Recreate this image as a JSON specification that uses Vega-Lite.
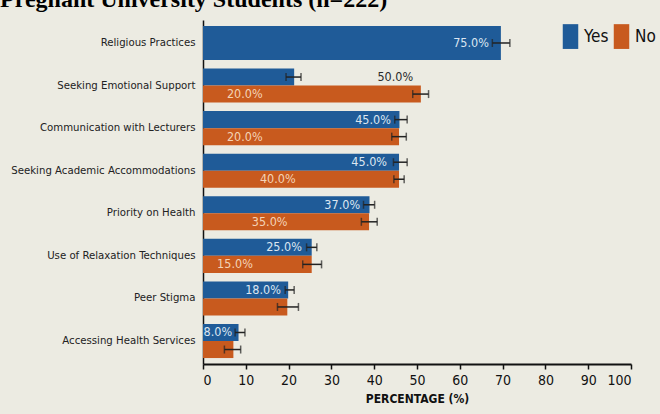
{
  "$schema": "https://vega.github.io/schema/vega-lite/v6.json",
  "width": 428,
  "height": 344,
  "autosize": {"type": "none"},
  "padding": {"left": 203, "top": 20, "right": 29, "bottom": 50},
  "background": "#ecebe2",
  "title": {
    "text": "Pregnant University Students (n=222)",
    "font": "Liberation Serif",
    "fontSize": 24,
    "fontWeight": "bold",
    "color": "#000000",
    "anchor": "start",
    "frame": "group",
    "orient": "top",
    "baseline": "alphabetic",
    "offset": 0,
    "dx": -203,
    "dy": 11
  },
  "config": {
    "font": "DejaVu Sans Condensed, Roboto Condensed, Roboto",
    "view": {"stroke": null},
    "legend": {
      "orient": "none",
      "legendX": 359,
      "legendY": 8,
      "direction": "horizontal",
      "title": null,
      "symbolType": "M-1,-1.6L1,-1.6L1,1.6L-1,1.6Z",
      "symbolSize": 240,
      "symbolStrokeWidth": 0,
      "labelFontSize": 17,
      "labelColor": "#111111",
      "labelOffset": 5,
      "columnPadding": 4,
      "padding": 0
    }
  },
  "datasets": {
    "bars": [
      {"category": "Religious Practices", "group": "Yes", "value": 69.6, "lo": 67.6, "hi": 71.7},
      {"category": "Seeking Emotional Support", "group": "Yes", "value": 21.3, "lo": 19.4, "hi": 22.9},
      {"category": "Seeking Emotional Support", "group": "No", "value": 50.9, "lo": 49.0, "hi": 52.7},
      {"category": "Communication with Lecturers", "group": "Yes", "value": 45.9, "lo": 44.8, "hi": 47.7},
      {"category": "Communication with Lecturers", "group": "No", "value": 45.8, "lo": 44.1, "hi": 47.5},
      {"category": "Seeking Academic Accommodations", "group": "Yes", "value": 45.8, "lo": 44.5, "hi": 47.7},
      {"category": "Seeking Academic Accommodations", "group": "No", "value": 45.8, "lo": 44.6, "hi": 47.0},
      {"category": "Priority on Health", "group": "Yes", "value": 38.9, "lo": 37.5, "hi": 40.1},
      {"category": "Priority on Health", "group": "No", "value": 38.8, "lo": 37.0, "hi": 40.7},
      {"category": "Use of Relaxation Techniques", "group": "Yes", "value": 25.4, "lo": 24.2, "hi": 26.6},
      {"category": "Use of Relaxation Techniques", "group": "No", "value": 25.4, "lo": 23.3, "hi": 27.7},
      {"category": "Peer Stigma", "group": "Yes", "value": 19.9, "lo": 19.2, "hi": 21.3},
      {"category": "Peer Stigma", "group": "No", "value": 19.7, "lo": 17.4, "hi": 22.3},
      {"category": "Accessing Health Services", "group": "Yes", "value": 8.3, "lo": 7.5, "hi": 9.8},
      {"category": "Accessing Health Services", "group": "No", "value": 7.1, "lo": 5.0, "hi": 8.8}
    ],
    "labels": [
      {"category": "Religious Practices", "group": "Yes", "label": "75.0%", "at": 66.8, "tone": "light"},
      {"category": "Seeking Emotional Support", "group": "Yes", "label": "50.0%", "at": 49.1, "tone": "dark"},
      {"category": "Seeking Emotional Support", "group": "No", "label": "20.0%", "at": 5.6, "tone": "light"},
      {"category": "Communication with Lecturers", "group": "Yes", "label": "45.0%", "at": 43.9, "tone": "light"},
      {"category": "Communication with Lecturers", "group": "No", "label": "20.0%", "at": 5.6, "tone": "light"},
      {"category": "Seeking Academic Accommodations", "group": "Yes", "label": "45.0%", "at": 43.0, "tone": "light"},
      {"category": "Seeking Academic Accommodations", "group": "No", "label": "40.0%", "at": 13.3, "tone": "light"},
      {"category": "Priority on Health", "group": "Yes", "label": "37.0%", "at": 36.7, "tone": "light"},
      {"category": "Priority on Health", "group": "No", "label": "35.0%", "at": 11.4, "tone": "light"},
      {"category": "Use of Relaxation Techniques", "group": "Yes", "label": "25.0%", "at": 23.1, "tone": "light"},
      {"category": "Use of Relaxation Techniques", "group": "No", "label": "15.0%", "at": 3.3, "tone": "light"},
      {"category": "Peer Stigma", "group": "Yes", "label": "18.0%", "at": 18.2, "tone": "light"},
      {"category": "Accessing Health Services", "group": "Yes", "label": "8.0%", "at": 6.8, "tone": "light"}
    ]
  },
  "encoding": {
    "y": {
      "field": "category",
      "type": "nominal",
      "sort": null,
      "scale": {"paddingInner": 0.2, "paddingOuter": 0.14},
      "axis": {
        "title": null,
        "ticks": false,
        "labelFontSize": 11.3,
        "labelColor": "#222222",
        "labelPadding": 8,
        "labelLimit": 400,
        "domainColor": "#111111",
        "domainWidth": 1.5
      }
    }
  },
  "layer": [
    {
      "data": {"name": "bars"},
      "transform": [{"filter": "datum.category === 'Religious Practices'"}],
      "layer": [
        {
          "mark": {"type": "bar"},
          "encoding": {
            "x": {
              "field": "value",
              "type": "quantitative",
              "scale": {"domain": [0, 100], "nice": false},
              "axis": {
                "values": [0, 10, 20, 30, 40, 50, 60, 70, 80, 90, 100],
                "grid": false,
                "title": "PERCENTAGE (%)",
                "titleFontSize": 12,
                "titleFontWeight": "bold",
                "titleColor": "#111111",
                "titlePadding": 6,
                "labelFontSize": 14,
                "labelColor": "#111111",
                "labelPadding": 4,
                "tickColor": "#111111",
                "tickSize": 5,
                "tickWidth": 1.5,
                "domainColor": "#111111",
                "domainWidth": 2
              }
            },
            "color": {
              "field": "group",
              "type": "nominal",
              "scale": {"domain": ["Yes", "No"], "range": ["#1f5b98", "#c85a1e"]}
            }
          }
        },
        {
          "mark": {"type": "rule", "color": "#222222", "strokeWidth": 1.5},
          "encoding": {"x": {"field": "lo", "type": "quantitative"}, "x2": {"field": "hi"}}
        },
        {
          "mark": {"type": "tick", "color": "#222222", "size": 8, "thickness": 1.5},
          "encoding": {"x": {"field": "lo", "type": "quantitative"}}
        },
        {
          "mark": {"type": "tick", "color": "#222222", "size": 8, "thickness": 1.5},
          "encoding": {"x": {"field": "hi", "type": "quantitative"}}
        }
      ]
    },
    {
      "data": {"name": "bars"},
      "transform": [{"filter": "datum.category !== 'Religious Practices'"}],
      "encoding": {
        "yOffset": {"field": "group", "type": "nominal", "scale": {"domain": ["Yes", "No"], "paddingInner": 0, "paddingOuter": 0}}
      },
      "layer": [
        {
          "mark": {"type": "bar"},
          "encoding": {
            "x": {"field": "value", "type": "quantitative"},
            "color": {"field": "group", "type": "nominal"}
          }
        },
        {
          "mark": {"type": "rule", "color": "#222222", "strokeWidth": 1.5},
          "encoding": {"x": {"field": "lo", "type": "quantitative"}, "x2": {"field": "hi"}}
        },
        {
          "mark": {"type": "tick", "color": "#222222", "size": 8, "thickness": 1.5},
          "encoding": {"x": {"field": "lo", "type": "quantitative"}}
        },
        {
          "mark": {"type": "tick", "color": "#222222", "size": 8, "thickness": 1.5},
          "encoding": {"x": {"field": "hi", "type": "quantitative"}}
        }
      ]
    },
    {
      "data": {"name": "labels"},
      "transform": [{"filter": "datum.category === 'Religious Practices'"}],
      "mark": {"type": "text", "align": "right", "baseline": "middle", "fontSize": 12.5, "color": "#dce6f1"},
      "encoding": {
        "x": {"field": "at", "type": "quantitative"},
        "text": {"field": "label"}
      }
    },
    {
      "data": {"name": "labels"},
      "transform": [{"filter": "datum.category !== 'Religious Practices' && datum.group === 'Yes'"}],
      "mark": {"type": "text", "align": "right", "baseline": "middle", "fontSize": 12.5},
      "encoding": {
        "x": {"field": "at", "type": "quantitative"},
        "yOffset": {"field": "group", "type": "nominal", "scale": {"domain": ["Yes", "No"], "paddingInner": 0, "paddingOuter": 0}},
        "text": {"field": "label"},
        "color": {"condition": {"test": "datum.tone === 'dark'", "value": "#2a2a2a"}, "value": "#dce6f1"}
      }
    },
    {
      "data": {"name": "labels"},
      "transform": [{"filter": "datum.group === 'No'"}],
      "mark": {"type": "text", "align": "left", "baseline": "middle", "fontSize": 12.5, "color": "#f4d3b6"},
      "encoding": {
        "x": {"field": "at", "type": "quantitative"},
        "yOffset": {"field": "group", "type": "nominal", "scale": {"domain": ["Yes", "No"], "paddingInner": 0, "paddingOuter": 0}},
        "text": {"field": "label"}
      }
    }
  ]
}
